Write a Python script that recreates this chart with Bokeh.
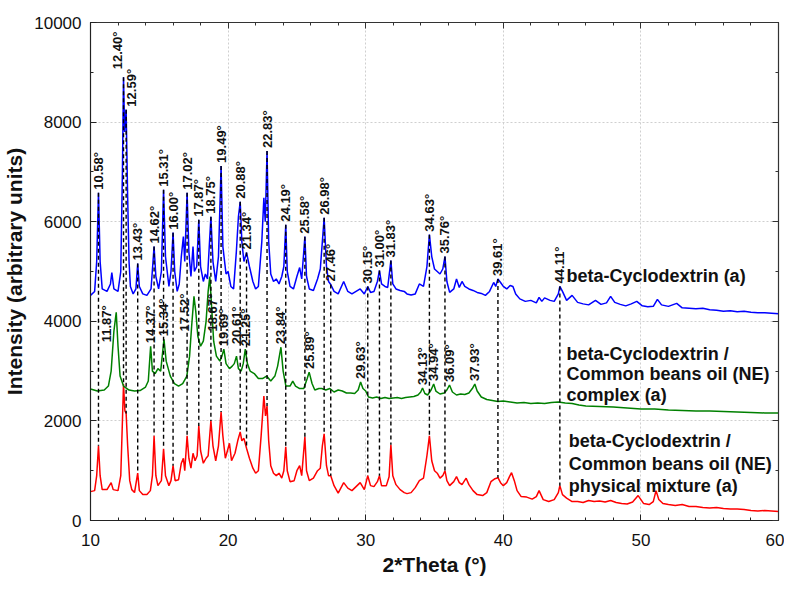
import numpy as np
from bokeh.plotting import figure
from bokeh.models import (LinearAxis, Range1d, SingleIntervalTicker, Label,
                          ColumnDataSource, CustomJSTickFormatter)
from bokeh.embed import file_html
from bokeh.resources import INLINE
from bokeh.core.properties import value

# ---------------- data ----------------
# beta-Cyclodextrin (a) - blue
tt_blue = [10.0, 10.3, 10.45, 10.58, 10.7, 10.85, 11.2, 11.45, 11.55, 11.7, 12.0, 12.2, 12.32, 12.40, 12.48,
           12.59, 12.7, 12.8, 12.9, 13.1, 13.3, 13.43, 13.55, 13.8, 14.1, 14.4, 14.62, 14.75, 14.95, 15.15,
           15.31, 15.45, 15.7, 15.85, 16.00, 16.12, 16.3, 16.45, 16.6, 16.75, 16.85, 17.02, 17.15, 17.3, 17.45,
           17.55, 17.72, 17.87, 18.0, 18.2, 18.35, 18.5, 18.75, 18.9, 19.1, 19.3, 19.49, 19.62, 19.85, 20.0,
           20.2, 20.4, 20.6, 20.75, 20.88, 21.0, 21.15, 21.34, 21.55, 21.8, 22.0, 22.2, 22.45, 22.6, 22.7,
           22.83, 22.95, 23.1, 23.3, 23.5, 23.7, 23.9, 24.05, 24.19, 24.3, 24.5, 24.75, 25.0, 25.2, 25.35,
           25.58, 25.7, 25.9, 26.2, 26.5, 26.7, 26.85, 26.98, 27.15, 27.3, 27.46, 27.7, 28.0, 28.4, 28.7,
           29.0, 29.3, 29.6, 29.9, 30.15, 30.35, 30.6, 30.85, 31.00, 31.15, 31.4, 31.6, 31.83, 31.97, 32.2,
           32.5, 32.8, 33.0, 33.3, 33.6, 33.9, 34.2, 34.45, 34.63, 34.8, 35.0, 35.2, 35.4, 35.6, 35.76,
           35.9, 36.1, 36.4, 36.6, 36.8, 37.0, 37.2, 37.5, 37.8, 38.1, 38.4, 38.7, 39.0, 39.3, 39.45,
           39.61, 39.8, 40.0, 40.25, 40.5, 40.7, 40.9, 41.2, 41.6, 42.0, 42.4, 42.6, 42.8, 43.0, 43.4,
           43.7, 44.0, 44.11, 44.3, 44.6, 45.0, 45.4, 45.8, 46.2, 46.7, 47.1, 47.5, 47.8, 48.1, 48.5,
           48.9, 49.3, 49.7, 50.1, 50.5, 50.9, 51.2, 51.5, 52.0, 52.6, 53.0, 53.5, 54.0, 54.5, 55.0,
           55.5, 56.0, 56.5, 57.0, 57.5, 58.0, 58.5, 59.0, 59.5, 60.0]
int_blue = [4520, 4600, 5200, 6580, 5200, 4650, 4600, 4750, 4980, 4650, 4600, 5000, 7000, 8900, 7800,
            8250, 6500, 5200, 4700, 4550, 4650, 5160, 4700, 4550, 4520, 4650, 5500, 4900, 4650, 5000,
            6640, 5300, 4700, 5000, 5780, 5000, 4600, 4750, 5300, 5700, 5200, 6580, 5400, 4900, 5500,
            5000, 5100, 6040, 5100, 4800, 4950, 4850, 6100, 5200, 4800, 5300, 7120, 5500, 4950, 5000,
            4700, 4650, 5400, 6100, 6400, 5600, 5200, 5380, 5100, 4800, 4650, 4700, 5600, 6480, 6000,
            7420, 5600, 4950, 4800, 4850, 4750, 4900, 5100, 5940, 5000, 4700, 4650, 4900, 5080, 4850,
            5700, 4900, 4650, 4620, 4850, 5050, 5600, 6080, 5100, 4800, 4740, 4600, 4550, 4800, 4600,
            4550, 4600, 4650, 4550, 4700, 4580, 4600, 4800, 5020, 4750, 4700, 4680, 5220, 4750, 4650,
            4620, 4600, 4550, 4530, 4550, 4750, 4700, 5100, 5740, 5300, 5050, 5000, 4950, 5050, 5300,
            4800, 4580, 4650, 4850, 4680, 4800, 4700, 4650, 4620, 4580, 4560, 4520, 4600, 4780, 4700,
            4850, 4780, 4700, 4650, 4720, 4700, 4550, 4450, 4400, 4420, 4370, 4480, 4400, 4470, 4420,
            4400, 4550, 4700, 4600, 4420, 4520, 4380, 4350, 4330, 4420, 4340, 4370, 4500, 4380, 4340,
            4310, 4350, 4400, 4310, 4290, 4300, 4440, 4330, 4300, 4360, 4270, 4260, 4250, 4260, 4230,
            4220, 4200, 4210, 4190, 4200, 4180, 4170, 4170, 4160, 4150]

# beta-Cyclodextrin / Common beans oil (NE) complex (a) - green
tt_green = [10.0, 10.5, 11.0, 11.3, 11.5, 11.7, 11.87, 12.0, 12.15, 12.4, 12.8, 13.2, 13.6, 14.0, 14.2,
            14.37, 14.5, 14.7, 14.9, 15.1, 15.34, 15.5, 15.8, 16.1, 16.4, 16.7, 17.0, 17.2, 17.35, 17.52,
            17.65, 17.8, 18.0, 18.2, 18.4, 18.55, 18.67, 18.8, 18.95, 19.15, 19.4, 19.55, 19.69, 19.85, 20.1,
            20.3, 20.45, 20.61, 20.75, 20.95, 21.1, 21.25, 21.4, 21.6, 21.9, 22.2, 22.5, 22.8, 23.1, 23.4,
            23.6, 23.84, 24.0, 24.2, 24.5, 24.7, 24.9, 25.2, 25.5, 25.75, 25.89, 26.1, 26.3, 26.6, 26.8,
            27.1, 27.4, 27.7, 28.0, 28.3, 28.6, 28.9, 29.2, 29.45, 29.63, 29.8, 30.0, 30.2, 30.5, 30.8,
            31.1, 31.4, 31.7, 32.0, 32.3, 32.6, 32.9, 33.2, 33.5, 33.8, 34.0, 34.13, 34.3, 34.5, 34.75,
            34.94, 35.1, 35.4, 35.7, 35.9, 36.09, 36.3, 36.6, 36.9, 37.2, 37.5, 37.75, 37.93, 38.1, 38.4,
            38.8, 39.2, 39.6, 40.0, 40.5, 41.0, 41.5, 42.0, 42.5, 43.0, 43.5, 44.0, 44.5, 45.0, 45.5,
            46.0, 47.0, 48.0, 49.0, 50.0, 51.0, 52.0, 53.0, 54.0, 55.0, 56.0, 57.0, 58.0, 59.0, 60.0]
int_green = [2640, 2600, 2620, 2700, 3000, 3800, 4180, 3500, 2900, 2700, 2620, 2600, 2610, 2680, 2800,
             3500, 3000, 2950, 3050, 3000, 3640, 3200, 2900, 2750, 2700, 2750, 2900, 3300, 3900, 4500,
             4200, 3700, 3500, 3600, 4000, 4600, 4900, 4300, 3600, 3300, 3200, 3300, 3440, 3150, 3050,
             3100, 3150, 3300, 3050, 3000, 3150, 3440, 3150, 3000, 2950, 2850, 2850, 2900, 2800, 2900,
             3100, 3480, 3000, 2700, 2700, 2800, 2700, 2650, 2650, 2850, 2980, 2750, 2620, 2650, 2650,
             2620, 2650, 2580, 2620, 2600, 2560, 2560, 2550, 2620, 2780, 2650, 2600, 2480, 2460, 2480,
             2450, 2470, 2450, 2460, 2470, 2450, 2470, 2480, 2490, 2520, 2580, 2660, 2550, 2520, 2620,
             2740, 2600, 2540, 2560, 2620, 2720, 2580, 2520, 2540, 2530, 2560, 2650, 2740, 2600, 2480,
             2430, 2410, 2390, 2400, 2380, 2360, 2370, 2350, 2360, 2350, 2370, 2380, 2360, 2350, 2320,
             2300, 2290, 2280, 2260, 2240, 2240, 2220, 2210, 2200, 2200, 2190, 2180, 2170, 2160, 2160]

# beta-Cyclodextrin / Common beans oil (NE) physical mixture (a) - red
tt_red = [10.0, 10.3, 10.45, 10.58, 10.7, 10.85, 11.2, 11.5, 11.65, 12.0, 12.2, 12.32, 12.40, 12.5, 12.59,
          12.7, 12.85, 13.0, 13.2, 13.43, 13.55, 13.8, 14.1, 14.35, 14.5, 14.62, 14.75, 14.9, 15.15, 15.31,
          15.45, 15.7, 15.85, 16.00, 16.15, 16.4, 16.6, 16.75, 16.85, 17.02, 17.15, 17.3, 17.45, 17.6, 17.75,
          17.87, 18.0, 18.2, 18.4, 18.55, 18.75, 18.9, 19.1, 19.3, 19.49, 19.62, 19.8, 19.95, 20.1, 20.25,
          20.5, 20.7, 20.88, 21.0, 21.15, 21.34, 21.55, 21.8, 22.0, 22.2, 22.4, 22.6, 22.72, 22.83, 22.95,
          23.1, 23.3, 23.5, 23.7, 23.9, 24.05, 24.19, 24.3, 24.5, 24.8, 25.0, 25.2, 25.35, 25.58, 25.7,
          25.9, 26.2, 26.5, 26.7, 26.85, 26.98, 27.15, 27.3, 27.46, 27.7, 28.0, 28.4, 28.7, 29.0, 29.3,
          29.6, 29.9, 30.15, 30.35, 30.6, 30.85, 31.00, 31.15, 31.5, 31.7, 31.83, 31.97, 32.2, 32.5, 32.8,
          33.0, 33.3, 33.6, 33.9, 34.2, 34.45, 34.63, 34.8, 35.0, 35.2, 35.4, 35.6, 35.76, 35.9, 36.1,
          36.4, 36.6, 36.8, 37.0, 37.3, 37.5, 37.8, 38.1, 38.5, 38.8, 39.1, 39.4, 39.61, 39.8, 40.0,
          40.25, 40.45, 40.6, 40.8, 41.0, 41.3, 41.7, 42.1, 42.4, 42.6, 42.9, 43.3, 43.7, 44.0, 44.11,
          44.3, 44.6, 45.0, 45.4, 45.8, 46.2, 46.6, 47.0, 47.4, 47.8, 48.2, 48.6, 49.0, 49.4, 49.8,
          50.2, 50.6, 50.9, 51.1, 51.3, 51.6, 52.0, 52.5, 53.0, 53.5, 54.0, 54.5, 55.0, 55.5, 56.0,
          56.5, 57.0, 57.5, 58.0, 58.5, 59.0, 59.5, 60.0]
int_red = [580, 600, 900, 1500, 900, 620, 620, 760, 620, 600, 900, 2000, 2740, 2200, 2150,
           1500, 800, 620, 560, 950, 600, 520, 520, 600, 900, 1700, 900, 700, 800, 1440,
           900, 700, 800, 1100, 800, 820, 1150, 1250, 1000, 1700, 1250, 1050, 1350, 1200, 1300,
           1900, 1400, 1150, 1250, 1300, 2000, 1500, 1200, 1500, 2180, 1700, 1250, 1400, 1550, 1200,
           1350, 1600, 1780, 1600, 1650, 1450, 1250, 1050, 950, 1000, 1700, 2500, 2100, 2300, 1600,
           1100, 950, 900, 950, 850, 1000, 1480, 1000, 780, 800, 1000, 1100, 900, 1680, 1000,
           800, 850, 1000, 1050, 1500, 1740, 1100, 900, 900, 700, 550, 760, 650, 600, 680,
           760, 620, 900, 700, 680, 780, 900, 700, 700, 880, 1520, 900, 720, 620, 560,
           540, 560, 660, 800, 850, 1300, 1700, 1200, 1000, 950, 850, 900, 1000, 800, 700,
           780, 880, 760, 720, 850, 720, 600, 520, 500, 560, 780, 840, 860, 760, 700,
           760, 880, 960, 800, 600, 480, 470, 430, 480, 600, 420, 380, 420, 560, 700,
           520, 450, 380, 380, 360, 400, 380, 390, 370, 400, 360, 340, 330, 370, 500,
           340, 320, 380, 600, 420, 340, 320, 300, 320, 280, 280, 260, 250, 260, 240,
           230, 230, 220, 200, 190, 200, 190, 180]

# peak positions labelled on the chart (2*Theta, degrees)
peaks_blue = [10.58, 12.40, 12.59, 13.43, 14.62, 15.31, 16.00, 17.02, 17.87, 18.75, 19.49, 20.88,
              21.34, 22.83, 24.19, 25.58, 26.98, 27.46, 30.15, 31.00, 31.83, 34.63, 35.76, 39.61, 44.11]
peaks_green = [11.87, 14.37, 15.34, 17.52, 18.67, 19.69, 20.61, 21.25, 23.84, 25.89, 29.63, 34.13,
               34.94, 36.09, 37.93]

series_names = ["beta-Cyclodextrin (a)",
                "beta-Cyclodextrin /\nCommon beans oil (NE)\ncomplex (a)",
                "beta-Cyclodextrin /\nCommon beans oil (NE)\nphysical mixture (a)"]

x_ticks_labels = ["10", "20", "30", "40", "50", "60"]

# ---------------- figure ----------------
FONT = "Liberation Sans"
p = figure(width=784, height=581, x_range=Range1d(10, 60), y_range=Range1d(0, 10000),
           output_backend="svg", toolbar_location=None,
           min_border_left=90, min_border_right=6, min_border_top=22, min_border_bottom=61)
p.background_fill_color = "white"
p.border_fill_color = "white"
p.outline_line_color = "#333333"
p.outline_line_width = 1.2

xt = SingleIntervalTicker(interval=10, num_minor_ticks=5)
yt = SingleIntervalTicker(interval=2000, num_minor_ticks=2)
p.xaxis.ticker = xt
p.yaxis.ticker = yt
p.xgrid.ticker = xt
p.ygrid.ticker = yt
for g in (p.xgrid, p.ygrid):
    g.grid_line_color = "#cfcfcf"
    g.grid_line_dash = "2 2"
    g.grid_line_width = 1

for ax in (p.xaxis[0], p.yaxis[0]):
    ax.major_tick_in = 6
    ax.major_tick_out = 0
    ax.minor_tick_in = 3
    ax.minor_tick_out = 0
    ax.axis_line_color = "#222222"
    ax.major_tick_line_color = "#222222"
    ax.minor_tick_line_color = "#222222"
    ax.major_label_text_font = FONT
    ax.major_label_text_font_size = "17px"
    ax.major_label_text_color = "#111111"
    ax.axis_label_text_font = FONT
    ax.axis_label_text_font_style = "bold"
    ax.axis_label_text_font_size = "21px"
    ax.axis_label_text_color = "#111111"

p.xaxis.axis_label = "2*Theta (\u00b0)"
p.yaxis.axis_label = "Intensity (arbitrary units)"
p.xaxis.major_label_standoff = 13
p.yaxis.major_label_standoff = 9
p.xaxis.axis_label_standoff = 4
p.yaxis.axis_label_standoff = 5
p.xaxis.major_label_overrides = {10 * (i + 1): s for i, s in enumerate(x_ticks_labels)}

blank = CustomJSTickFormatter(code="return ''")
for loc, tk in (("right", yt), ("above", xt)):
    ax = LinearAxis(ticker=tk, formatter=blank, major_tick_in=6, major_tick_out=0,
                    minor_tick_in=3, minor_tick_out=0, major_label_standoff=0,
                    axis_line_color="#333333", major_tick_line_color="#333333",
                    minor_tick_line_color="#333333")
    p.add_layout(ax, loc)

# curves
p.line(tt_red, int_red, line_color="#ff0000", line_width=1.5)
p.line(tt_green, int_green, line_color="#008000", line_width=1.5)
p.line(tt_blue, int_blue, line_color="#0000ff", line_width=1.5)

# dashed guides from beta-CD peaks down to the physical mixture trace
pb = np.array(peaks_blue)
top = np.interp(pb, tt_blue, int_blue)
bot = np.interp(pb, tt_red, int_red)
p.segment(x0=pb, y0=top, x1=pb, y1=bot, line_color="black", line_width=1.4, line_dash="4 3")

# peak labels (pixel nudges where labels were moved to avoid overlaps)
nudge_b = {12.40: (-6, -8), 12.59: (5, -3)}
lab_b = ColumnDataSource(dict(x=pb, y=top, t=[f"{v:.2f}\u00b0" for v in peaks_blue],
                              dx=[float(nudge_b.get(v, (0, -3))[0]) for v in peaks_blue],
                              dy=[float(nudge_b.get(v, (0, -3))[1]) for v in peaks_blue]))
pg = np.array(peaks_green)
nudge_g = {11.87: (-10, 30), 17.52: (-9, 35), 18.67: (3, 55), 20.61: (0, -12)}
lab_g = ColumnDataSource(dict(x=pg, y=np.interp(pg, tt_green, int_green),
                              t=[f"{v:.2f}\u00b0" for v in peaks_green],
                              dx=[float(nudge_g.get(v, (0, -3))[0]) for v in peaks_green],
                              dy=[float(nudge_g.get(v, (0, -3))[1]) for v in peaks_green]))
for src in (lab_b, lab_g):
    p.text(x="x", y="y", text="t", source=src, angle=np.pi / 2, x_offset="dx", y_offset="dy",
           text_align="left", text_baseline="middle", text_font=value(FONT),
           text_font_style="bold", text_font_size="13px", text_color="#111111")

# series names on the right
name_x = [44.6, 44.6, 44.75]
name_y = [[4900], [3340, 2940, 2520], [1600, 1140, 700]]
for nm, nx, ys in zip(series_names, name_x, name_y):
    for line, ny in zip(nm.split("\n"), ys):
        p.add_layout(Label(x=nx, y=ny, text=line, text_font=FONT, text_font_style="bold",
                           text_font_size="18px", text_baseline="middle", text_color="#111111"))

open("out.html", "w").write(file_html(p, INLINE))
